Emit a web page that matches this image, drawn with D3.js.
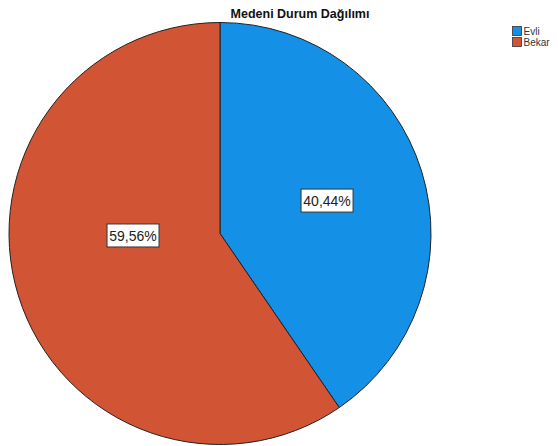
<!DOCTYPE html>
<html>
<head>
<meta charset="utf-8">
<script src="https://cdn.jsdelivr.net/npm/d3@7"></script>
<style>
  body { margin: 0; background: #fff; }
  svg { display: block; font-family: "Liberation Sans", Arial, sans-serif; }
</style>
</head>
<body>
<svg id="chart" width="558" height="446"></svg>
<script>
var title = "Medeni Durum Dağılımı";
var categories = ["Evli", "Bekar"];
var percents = [40.44, 59.56];
var colors = ["#1490e6", "#d15434"];

var width = 558
  , height = 446
  , cx = 220
  , cy = 233.5
  , radius = 211;

// where SPSS dropped the value boxes (radius, angle in deg from 12 o'clock)
var labelPlace = [{r: 112, a: 72.9}, {r: 87, a: 268.7}];

var svg = d3.select("#chart");

var pie = d3.pie()
    .sort(null)
    .value(d => d);

var arc = d3.arc()
    .innerRadius(0)
    .outerRadius(radius);

var g = svg.append("g")
    .attr("transform", "translate(" + cx + "," + cy + ")");

var slices = pie(percents);

g.selectAll(".slice")
  .data(slices)
 .enter().append("path")
  .attr("class", "slice")
  .attr("d", arc)
  .attr("fill", (d, i) => colors[i])
  .attr("stroke", "#222")
  .attr("stroke-width", 1);

// value labels with white boxes
var fmt = v => d3.format(".2f")(v).replace(".", ",") + "%";

var labels = g.selectAll(".lbl")
  .data(slices)
 .enter().append("g")
  .attr("class", "lbl")
  .attr("transform", function(d, i) {
    var p = labelPlace[i]
      , rad = p.a * Math.PI / 180;
    return "translate(" + (p.r * Math.sin(rad)) + "," + (-p.r * Math.cos(rad)) + ")";
  });

labels.append("rect")
  .attr("x", -26)
  .attr("y", -11.5)
  .attr("width", 52)
  .attr("height", 23)
  .attr("fill", "#fff")
  .attr("stroke", "#333")
  .attr("stroke-width", 1);

labels.append("text")
  .attr("text-anchor", "middle")
  .attr("dy", "0.36em")
  .attr("font-size", "14px")
  .attr("fill", "#222")
  .text(d => fmt(d.data));

// title
svg.append("text")
  .attr("x", 300)
  .attr("y", 18)
  .attr("text-anchor", "middle")
  .attr("font-size", "12.5px")
  .attr("font-weight", "bold")
  .attr("fill", "#111")
  .text(title);

// legend
var legend = svg.selectAll(".legend")
  .data(categories)
 .enter().append("g")
  .attr("class", "legend")
  .attr("transform", (d, i) => "translate(512," + (26 + i * 11) + ")");

legend.append("rect")
  .attr("x", 0.5)
  .attr("y", 0.5)
  .attr("width", 9)
  .attr("height", 9)
  .attr("fill", (d, i) => colors[i])
  .attr("stroke", "#333")
  .attr("stroke-width", 0.8);

legend.append("text")
  .attr("x", 11.5)
  .attr("y", 8.5)
  .attr("font-size", "10px")
  .attr("fill", "#333")
  .text(d => d);
</script>
</body>
</html>
